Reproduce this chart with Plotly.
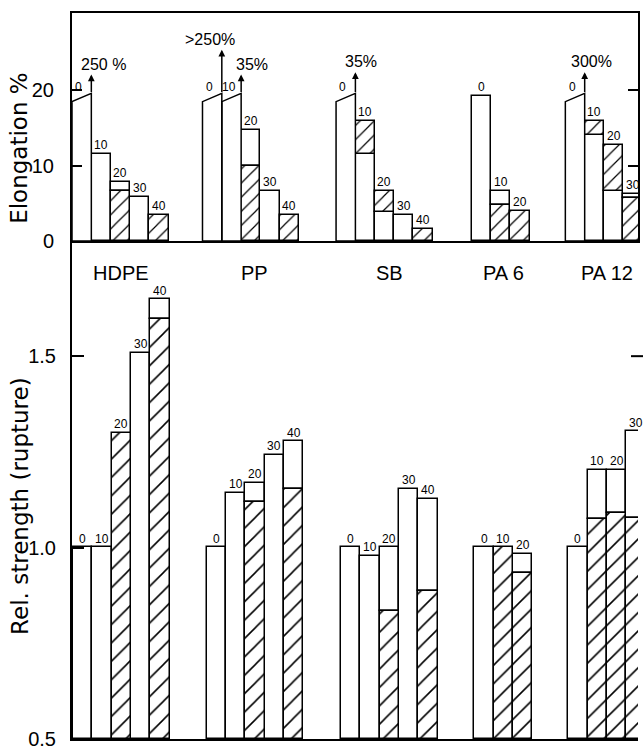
import plotly.graph_objects as go

# ---------------- data ----------------
groups = ["HDPE", "PP", "SB", "PA 6", "PA 12"]
levels = [[0, 10, 20, 30, 40], [0, 10, 20, 30, 40], [0, 10, 20, 30, 40], [0, 10, 20], [0, 10, 20, 30]]

# Elongation % (top panel): open bars and hatched bars
elong_open = [[19.6, 11.6, 7.8, 5.9, None],
              [19.6, 19.6, 14.7, 6.6, None],
              [19.6, 11.5, 3.9, 3.4, None],
              [19.3, 6.7, None],
              [19.6, 14.1, 6.6, 6.2]]
elong_hatch = [[None, None, 6.7, None, 3.4],
               [None, None, 9.9, None, 3.4],
               [None, 16.0, 6.6, None, 1.6],
               [None, 4.8, 4.0],
               [None, 15.9, 12.8, 5.7]]
# off-scale values (broken bars)
elong_offscale = [["250 %", None, None, None, None],
                  [">250%", "35%", None, None, None],
                  ["35%", None, None, None, None],
                  [None, None, None],
                  ["300%", None, None, None]]

# Relative strength (rupture) (bottom panel)
str_open = [[1.0, 1.0, None, 1.508, 1.648],
            [1.0, 1.142, 1.168, 1.241, 1.277],
            [1.0, 0.979, 1.0, 1.153, 1.127],
            [1.0, None, 0.984],
            [1.0, 1.202, 1.202, 1.303]]
str_hatch = [[None, None, 1.298, None, 1.596],
             [None, None, 1.119, None, 1.153],
             [None, None, 0.834, None, 0.886],
             [None, 1.0, 0.933],
             [None, 1.075, 1.09, 1.078]]

# ---------------- layout constants ----------------
BAR_PX = 19.4
X_MAX = 568 / BAR_PX
top_start = [0.0, 6.75, 13.66, 20.67, 25.52]
bot_start = [0.05, 6.96, 13.92, 20.82, 25.67]
arrow_tip = {(0, 0): 22.1, (1, 0): 25.4, (1, 1): 22.1, (2, 0): 22.4, (4, 0): 22.4}
label_dx = {(0, 0): 0.62, (1, 0): -0.62, (1, 1): 0.55, (2, 0): 0.3, (4, 0): 0.35}
SLANT = 1.1

FONT = "Liberation Sans, Arial, sans-serif"
LINE = dict(color="black", width=1.5)


def build_segments(open_vals, hatch_vals, starts, floor, skip=None):
    o_seg = dict(x=[], base=[], y=[])
    h_seg = dict(x=[], base=[], y=[])
    tops = []
    for g in range(len(open_vals)):
        for i, (o, h) in enumerate(zip(open_vals[g], hatch_vals[g])):
            xc = starts[g] + i + 0.5
            top = max(v for v in (o, h) if v is not None)
            tops.append((g, i, xc, top))
            if skip is not None and skip[g][i] is not None:
                continue
            if o is not None and h is not None:
                if o <= h:
                    o_seg["x"].append(xc); o_seg["base"].append(floor); o_seg["y"].append(o - floor)
                    h_seg["x"].append(xc); h_seg["base"].append(o); h_seg["y"].append(h - o)
                else:
                    h_seg["x"].append(xc); h_seg["base"].append(floor); h_seg["y"].append(h - floor)
                    o_seg["x"].append(xc); o_seg["base"].append(h); o_seg["y"].append(o - h)
            elif o is not None:
                o_seg["x"].append(xc); o_seg["base"].append(floor); o_seg["y"].append(o - floor)
            elif h is not None:
                h_seg["x"].append(xc); h_seg["base"].append(floor); h_seg["y"].append(h - floor)
    return o_seg, h_seg, tops


fig = go.Figure()


def add_bars(o_seg, h_seg, xa, ya, psize):
    fig.add_trace(go.Bar(x=o_seg["x"], y=o_seg["y"], base=o_seg["base"], width=1,
                         marker=dict(color="white", line=LINE),
                         xaxis=xa, yaxis=ya, showlegend=False, hoverinfo="skip"))
    fig.add_trace(go.Bar(x=h_seg["x"], y=h_seg["y"], base=h_seg["base"], width=1,
                         marker=dict(color="white", line=LINE,
                                     pattern=dict(shape="/", fgcolor="black", bgcolor="white",
                                                  size=psize, solidity=0.12, fillmode="replace")),
                         xaxis=xa, yaxis=ya, showlegend=False, hoverinfo="skip"))


# top panel
to, th, ttops = build_segments(elong_open, elong_hatch, top_start, 0.0, skip=elong_offscale)
add_bars(to, th, "x2", "y2", 10)

# broken (off-scale) bars as slanted polygons
px, py = [], []
annotations = []
for g in range(len(groups)):
    for i, lab in enumerate(elong_offscale[g]):
        if lab is None:
            continue
        x0 = top_start[g] + i
        x1 = x0 + 1
        yr = elong_open[g][i]
        px += [x0, x0, x1, x1, x0, None]
        py += [0, yr - SLANT, yr, 0, 0, None]
        tip = arrow_tip[(g, i)]
        annotations.append(dict(x=x1, y=tip, ax=x1, ay=yr, xref="x2", yref="y2", axref="x2", ayref="y2",
                                showarrow=True, arrowhead=2, arrowsize=0.9, arrowwidth=1.5,
                                arrowcolor="black", text=""))
        annotations.append(dict(x=x1 + label_dx[(g, i)], y=tip, xref="x2", yref="y2", text=lab,
                                showarrow=False, yanchor="bottom", xanchor="center",
                                font=dict(family=FONT, size=16, color="black")))
fig.add_trace(go.Scatter(x=px, y=py, mode="lines", fill="toself", fillcolor="white",
                         line=dict(color="black", width=1.5), xaxis="x2", yaxis="y2",
                         showlegend=False, hoverinfo="skip"))

for g, i, xc, top in ttops:
    broken = elong_offscale[g][i] is not None
    annotations.append(dict(x=xc - (0.15 if broken else 0), y=top - (0.3 if broken else 0),
                            xref="x2", yref="y2", text=str(levels[g][i]),
                            showarrow=False, yanchor="bottom", xanchor="center",
                            font=dict(family=FONT, size=12, color="black")))

# bottom panel
bo, bh, btops = build_segments(str_open, str_hatch, bot_start, 0.5)
add_bars(bo, bh, "x", "y", 13)
for g, i, xc, top in btops:
    annotations.append(dict(x=xc, y=top, xref="x", yref="y", text=str(levels[g][i]),
                            showarrow=False, yanchor="bottom", xanchor="center",
                            font=dict(family=FONT, size=12, color="black")))

# group names
for g, name in enumerate(groups):
    n = len(levels[g])
    cx = bot_start[g] + min(n, 4.2) / 2 if g == 4 else bot_start[g] + n / 2
    annotations.append(dict(x=cx, y=1.718, xref="x", yref="y", text=name, showarrow=False,
                            xanchor="center", yanchor="middle",
                            font=dict(family=FONT, size=20, color="black")))

# axis titles
annotations.append(dict(x=-0.094, y=0.814, xref="paper", yref="paper", text="Elongation %",
                        textangle=-90, showarrow=False, xanchor="center", yanchor="middle",
                        font=dict(family="DejaVu Sans", size=23, color="black")))
annotations.append(dict(x=-0.092, y=0.321, xref="paper", yref="paper", text="Rel. strength (rupture)",
                        textangle=-90, showarrow=False, xanchor="center", yanchor="middle",
                        font=dict(family="DejaVu Sans", size=23, color="black")))

DOM = 502 / 732
axis_common = dict(showline=True, linecolor="black", linewidth=2, showgrid=False, zeroline=False)
fig.update_layout(
    width=643, height=753,
    margin=dict(l=72, r=3, t=13, b=8),
    paper_bgcolor="white", plot_bgcolor="white",
    barmode="overlay", bargap=0,
    showlegend=False,
    xaxis=dict(domain=[0, 1], range=[0, X_MAX], anchor="y", showticklabels=False, ticks="", **axis_common),
    xaxis2=dict(domain=[0, 1], range=[0, X_MAX], anchor="y2", showticklabels=False, ticks="",
                mirror=True, **axis_common),
    yaxis=dict(domain=[0, DOM], range=[0.5, 0.5 + 502 / 386], anchor="x",
               tickvals=[0.5, 1.0, 1.5], ticktext=["0.5", "1.0", "1.5"],
               ticks="inside", ticklen=12, tickwidth=2, tickcolor="black", ticklabelstandoff=10,
               tickfont=dict(family=FONT, size=20, color="black"), **axis_common),
    yaxis2=dict(domain=[DOM, 1], range=[0, 230 / 7.6], anchor="x2",
                tickvals=[0, 10, 20], ticktext=["0", "10", "20"],
                ticks="inside", ticklen=10, tickwidth=2, tickcolor="black", ticklabelstandoff=12,
                mirror="ticks",
                tickfont=dict(family=FONT, size=20, color="black"), **axis_common),
    annotations=annotations,
    shapes=[dict(type="line", xref="paper", yref="y", x0=(633 - 72) / 568, x1=1.01, y0=1.5, y1=1.5,
                 line=dict(color="black", width=2))],
)

fig.write_html("out.html")
